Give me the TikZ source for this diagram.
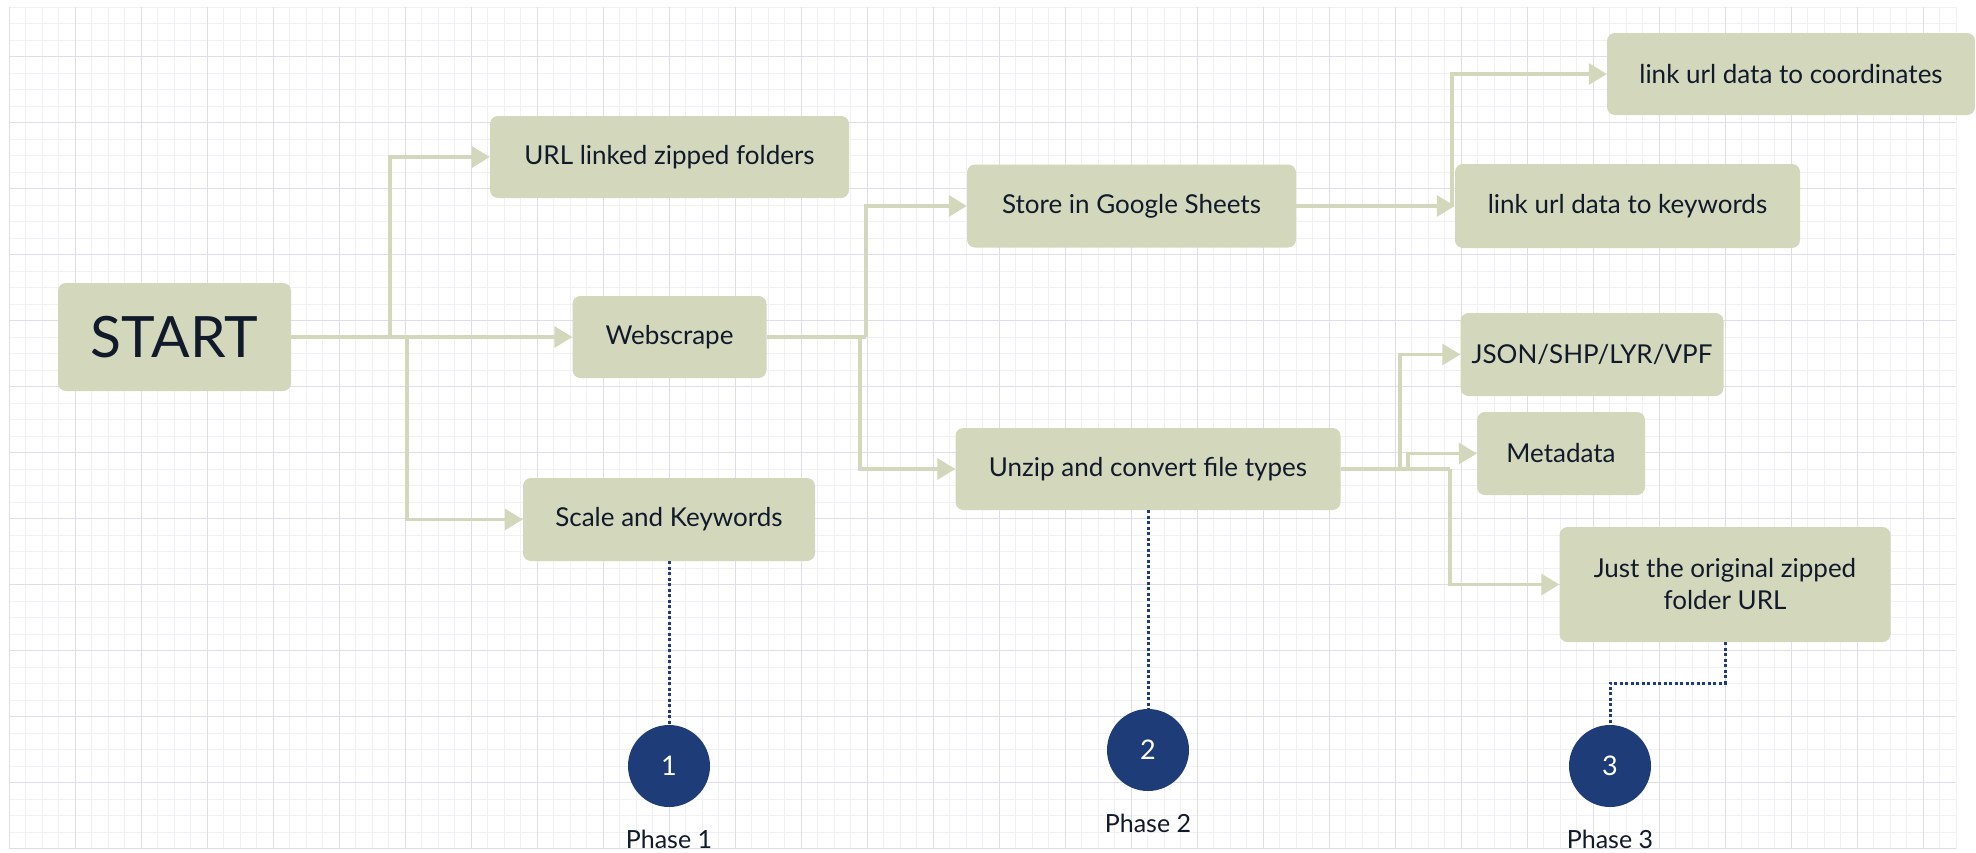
\documentclass[tikz,border=0pt]{standalone}
\usepackage{fontspec}
\setmainfont{Lato}
\usetikzlibrary{arrows.meta}
\definecolor{boxg}{HTML}{D3D8BC}
\definecolor{navy}{HTML}{1E3C78}
\definecolor{ink}{HTML}{111A2B}
\definecolor{gridminor}{HTML}{F1F1F5}
\definecolor{gridmajor}{HTML}{DEDEE8}
\tikzset{
  stepbox/.style={rectangle, rounded corners=8pt, fill=boxg, inner sep=0pt, text=ink, font=\fontsize{26}{32}\selectfont, align=center},
  phasecirc/.style={ellipse, fill=navy, inner sep=0pt, minimum width=82pt, minimum height=82pt, text=white, font=\fontsize{27}{30}\selectfont},
  phaselabel/.style={text=ink, font=\fontsize{25}{28}\selectfont, inner sep=0pt, anchor=base},
  conn/.style={draw=boxg, line width=3.3pt, -{Triangle[length=18pt,width=21pt]}},
  connplain/.style={draw=boxg, line width=3.3pt},
  dotline/.style={draw=navy, line width=3pt, dash pattern=on 3pt off 2.5pt},
}
\usetikzlibrary{shapes.geometric}
\begin{document}
\begin{tikzpicture}[x=1pt,y=-1pt]
\useasboundingbox (0,0) rectangle (1976,852);
\fill[white] (0,0) rectangle (1976,852);
% grid
\foreach \i in {0,...,118}{
  \pgfmathsetmacro{\xx}{9.4+16.5*\i}
  \draw[gridminor, line width=1pt] (\xx,7.2) -- (\xx,848.7);
}
\foreach \k in {0,...,51}{
  \pgfmathsetmacro{\yy}{7.2+16.5*\k}
  \draw[gridminor, line width=1pt] (9.4,\yy) -- (1956.4,\yy);
}
\foreach \i in {0,4,...,116}{
  \pgfmathsetmacro{\xx}{9.4+16.5*\i}
  \draw[gridmajor, line width=1.2pt] (\xx,7.2) -- (\xx,848.7);
}
\foreach \k in {3,7,...,51}{
  \pgfmathsetmacro{\yy}{7.2+16.5*\k}
  \draw[gridmajor, line width=1.2pt] (9.4,\yy) -- (1956.4,\yy);
}
% boxes
\node[stepbox, minimum width=233pt, minimum height=108pt, font=\fontsize{57}{60}\selectfont] (start) at (174.5,337) {START};
\node[stepbox, minimum width=359pt, minimum height=82pt] (url) at (669.5,157) {URL linked zipped folders};
\node[stepbox, minimum width=194pt, minimum height=82pt] (web) at (669.5,337) {Webscrape};
\node[stepbox, minimum width=292pt, minimum height=83pt] (scale) at (669,519.5) {Scale and Keywords};
\node[stepbox, minimum width=329pt, minimum height=83pt] (store) at (1131.5,206) {Store in Google Sheets};
\node[stepbox, minimum width=385pt, minimum height=82pt] (unzip) at (1148,469) {Unzip and convert file types};
\node[stepbox, minimum width=368pt, minimum height=82pt] (coord) at (1791,74) {link url data to coordinates};
\node[stepbox, minimum width=345pt, minimum height=84pt] (kw) at (1627.5,206) {link url data to keywords};
\node[stepbox, minimum width=263pt, minimum height=83pt] (json) at (1592,354.5) {JSON/SHP/LYR/VPF};
\node[stepbox, minimum width=168pt, minimum height=83pt] (meta) at (1561,453.5) {Metadata};
\node[stepbox, minimum width=331pt, minimum height=115pt] (just) at (1725,584.5) {Just the original zipped\\folder URL};
% phases
\node[phasecirc] (c1) at (669,766) {1};
\node[phasecirc] (c2) at (1148,750) {2};
\node[phasecirc] (c3) at (1610,766) {3};
\node[phaselabel] (p1) at (669,848) {Phase 1};
\node[phaselabel] (p2) at (1148,832) {Phase 2};
\node[phaselabel] (p3) at (1610,848) {Phase 3};
% junctions
\coordinate (j1) at (390,337);
\coordinate (j2) at (407,337);
\coordinate (j3) at (866,337);
\coordinate (j4) at (860,337);
\coordinate (j5) at (1452,206);
\coordinate (j6) at (1400,469);
\coordinate (j7) at (1408,469);
\coordinate (j8) at (1450,469);
\coordinate (d1) at (1725,683);
% connectors
\draw[conn] (start.east) -- (web.west);
\draw[conn] (j1) |- (url.west);
\draw[conn] (j2) |- (scale.west);
\draw[connplain] (web.east) -- (j3);
\draw[conn] (j3) |- (store.west);
\draw[conn] (j4) |- (unzip.west);
\draw[conn] (store.east) -- (kw.west);
\draw[conn] (j5) |- (coord.west);
\draw[connplain] (unzip.east) -- (j8);
\draw[conn] (j8) |- (just.west);
\draw[conn] (j6) |- (json.west);
\draw[conn] (j7) |- (meta.west);
% dotted
\draw[dotline] (scale.south) -- (c1.north);
\draw[dotline] (unzip.south) -- (c2.north);
\draw[dotline] (just.south) -- (d1) -| (c3.north);
\end{tikzpicture}
\end{document}
